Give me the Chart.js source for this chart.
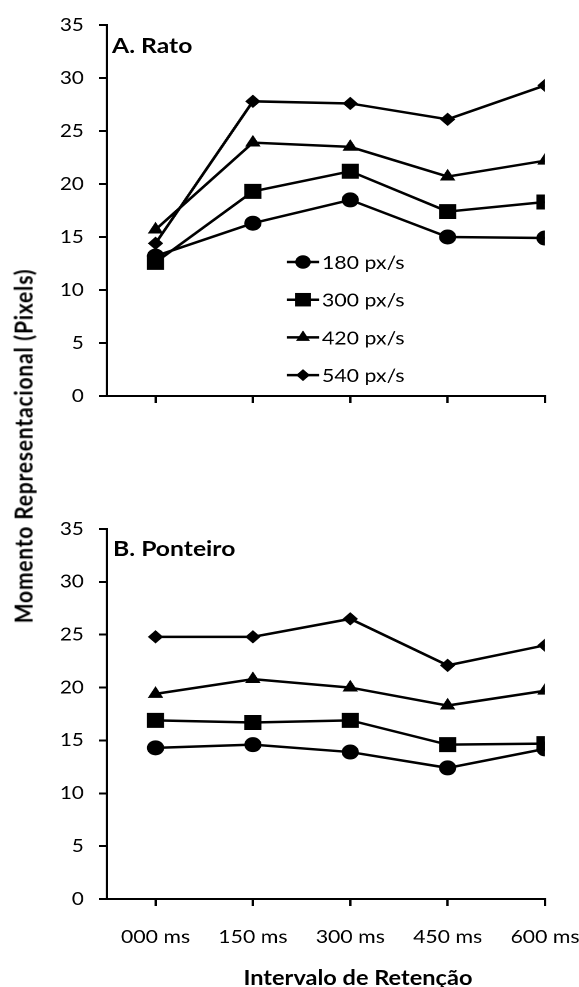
<!DOCTYPE html>
<html>
<head>
<meta charset="utf-8">
<script src="https://cdn.jsdelivr.net/npm/chart.js"></script>
<style>
    html, body { margin: 0; padding: 0; background: #fff; overflow: hidden; }
    /* the source figure is stretched sideways, so the whole stage is too */
    #stage { position: absolute; left: 0; top: 0; width: 504px; height: 987px;
             transform: scaleX(1.1488); transform-origin: 0 0;
             font-family: Lato, sans-serif; color: #000; }
    #stage canvas { position: absolute; left: 0; }
    #rato { top: 0; }
    #ponteiro { top: 460px; }
    .txt { position: absolute; font-weight: bold; line-height: 1; white-space: nowrap; }
    .panel { font-size: 21.5px; }
    #xtitle { left: 311.6px; top: 966.5px; font-size: 20.5px; transform: translateX(-50%); }
    #ytitle { left: 19.5px; top: 446px; font-size: 21px; letter-spacing: 0.8px;
              transform: translate(-50%, -50%) rotate(-90deg); }
</style>
</head>
<body>
<div id="stage">
    <canvas id="rato" width="504" height="460"></canvas>
    <canvas id="ponteiro" width="504" height="527"></canvas>
    <div class="txt panel" style="left:97.5px; top:34.5px;">A. Rato</div>
    <div class="txt panel" style="left:98.4px; top:537.5px;">B. Ponteiro</div>
    <div class="txt" id="ytitle">Momento Representacional (Pixels)</div>
    <div class="txt" id="xtitle">Intervalo de Retenção</div>
</div>
<script>
'use strict';

const xLabels = ['000 ms', '150 ms', '300 ms', '450 ms', '600 ms'];
const seriesNames = ['180 px/s', '300 px/s', '420 px/s', '540 px/s'];
const yTicks = { 'min': 0, 'max': 35, 'step': 5 };

// A. Rato
const rato180 = [13.2, 16.3, 18.5, 15.0, 14.9];
const rato300 = [12.6, 19.3, 21.2, 17.4, 18.3];
const rato420 = [15.7, 23.9, 23.5, 20.7, 22.2];
const rato540 = [14.4, 27.8, 27.6, 26.1, 29.3];

// B. Ponteiro
const ponteiro180 = [14.3, 14.6, 13.9, 12.4, 14.2];
const ponteiro300 = [16.9, 16.7, 16.9, 14.6, 14.7];
const ponteiro420 = [19.4, 20.8, 20.0, 18.3, 19.7];
const ponteiro540 = [24.8, 24.8, 26.5, 22.1, 24.0];

const markerStyles = ['circle', 'rect', 'triangle', 'rectRot'];
const markerSizes = [7.5, 10.6, 7.8, 6.7];

Chart.defaults.font.family = 'Lato, sans-serif';
Chart.defaults.color = '#000';

const toPoints = (values) => values.map((v, i) => ({ 'x': i, 'y': v }));

const buildDatasets = (seriesList) => seriesList.map((values, i) => ({
    'label': seriesNames[i],
    'data': toPoints(values),
    'borderColor': '#000',
    'backgroundColor': '#000',
    'borderWidth': 2.5,
    'tension': 0,
    'pointStyle': markerStyles[i],
    'pointRadius': markerSizes[i],
    'pointBorderWidth': 0,
    'pointBackgroundColor': '#000'
}));

// legend drawn inside the plot, like the original
const insideLegend = {
    'id': 'insideLegend',
    afterDraw(chart, args, opts) {
        if (!opts.show) {
            return;
        }
        const ctx = chart.ctx;
        ctx.save();
        chart.data.datasets.forEach((ds, i) => {
            const y = opts.top + i * opts.rowGap;
            ctx.strokeStyle = '#000';
            ctx.lineWidth = 2.5;
            ctx.beginPath();
            ctx.moveTo(opts.left, y);
            ctx.lineTo(opts.left + opts.lineLength, y);
            ctx.stroke();
            ctx.fillStyle = '#000';
            Chart.helpers.drawPoint(ctx, {
                'pointStyle': ds.pointStyle,
                'radius': ds.pointRadius * 0.9,
                'rotation': 0,
                'borderWidth': 0
            }, opts.left + opts.lineLength / 2, y);
            ctx.font = '18.5px Lato, sans-serif';
            ctx.textAlign = 'left';
            ctx.textBaseline = 'middle';
            ctx.fillText(ds.label, opts.textX, y + 1);
        });
        ctx.restore();
    }
};

const makeChart = (canvasId, seriesList, cfg) => {
    const ctx = document.getElementById(canvasId).getContext('2d');
    return new Chart(ctx, {
        'type': 'line',
        'data': { 'datasets': buildDatasets(seriesList) },
        'plugins': [insideLegend],
        'options': {
            'responsive': false,
            'animation': false,
            'devicePixelRatio': 2,
            'layout': { 'padding': { 'top': cfg.top, 'right': 29.6, 'bottom': 0, 'left': 0 } },
            'plugins': {
                'legend': { 'display': false },
                'tooltip': { 'enabled': false },
                'insideLegend': cfg.legend
            },
            'scales': {
                'x': {
                    'type': 'linear',
                    'min': -0.5,
                    'max': xLabels.length - 1,
                    'afterBuildTicks': (scale) => {
                        scale.ticks = xLabels.map((l, i) => ({ 'value': i }));
                    },
                    'afterFit': (scale) => {
                        scale.height = cfg.xHeight;
                        scale.paddingLeft = 0;
                        scale.paddingRight = 0;
                    },
                    'ticks': {
                        'display': cfg.showXLabels,
                        'font': { 'size': 18.5 },
                        'padding': 20,
                        'maxRotation': 0,
                        'callback': (v) => xLabels[v]
                    },
                    'grid': { 'drawOnChartArea': false, 'drawTicks': true, 'tickLength': 7, 'color': '#000', 'lineWidth': 2 },
                    'border': { 'color': '#000', 'width': 2 }
                },
                'y': {
                    'min': yTicks.min,
                    'max': yTicks.max,
                    'afterFit': (scale) => {
                        scale.width = 93;
                        scale.paddingTop = 0;
                        scale.paddingBottom = 0;
                    },
                    'ticks': { 'stepSize': yTicks.step, 'font': { 'size': 18 }, 'padding': 13 },
                    'grid': { 'drawOnChartArea': false, 'drawTicks': true, 'tickLength': 7, 'color': '#000', 'lineWidth': 2 },
                    'border': { 'color': '#000', 'width': 2 }
                }
            }
        }
    });
};

makeChart('rato', [rato180, rato300, rato420, rato540], {
    'top': 25,
    'xHeight': 64,
    'showXLabels': false,
    'legend': { 'show': true, 'left': 249.8, 'lineLength': 27.9, 'textX': 280.3, 'top': 262, 'rowGap': 37.7 }
});

makeChart('ponteiro', [ponteiro180, ponteiro300, ponteiro420, ponteiro540], {
    'top': 69,
    'xHeight': 88,
    'showXLabels': true,
    'legend': { 'show': false }
});
</script>
</body>
</html>
